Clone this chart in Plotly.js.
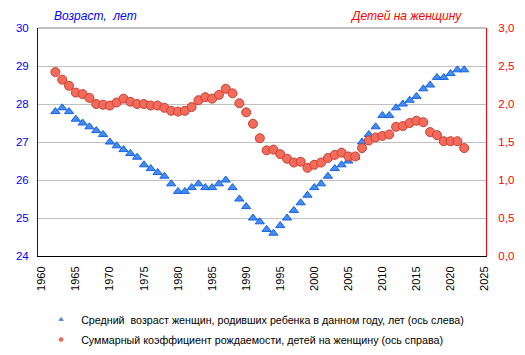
<!DOCTYPE html>
<html>
<head>
<meta charset="utf-8">
<script src="https://cdn.plot.ly/plotly-3.0.1.min.js"></script>
<style>html,body{margin:0;padding:0;background:#fff;}#chart{width:525px;height:355px;}</style>
</head>
<body>
<div id="chart"></div>
<script>
const years = [1962,1963,1964,1965,1966,1967,1968,1969,1970,1971,1972,1973,1974,1975,1976,1977,1978,1979,1980,1981,1982,1983,1984,1985,1986,1987,1988,1989,1990,1991,1992,1993,1994,1995,1996,1997,1998,1999,2000,2001,2002,2003,2004,2005,2006,2007,2008,2009,2010,2011,2012,2013,2014,2015,2016,2017,2018,2019,2020,2021,2022];
const meanAge = [27.8,27.9,27.8,27.6,27.5,27.4,27.3,27.2,27.0,26.9,26.8,26.7,26.6,26.4,26.3,26.2,26.1,25.9,25.7,25.7,25.8,25.9,25.8,25.8,25.9,26.0,25.8,25.5,25.3,25.0,24.9,24.7,24.6,24.8,25.0,25.2,25.4,25.6,25.8,25.9,26.1,26.3,26.4,26.5,26.6,27.0,27.2,27.4,27.7,27.7,27.9,28.0,28.1,28.2,28.4,28.5,28.7,28.7,28.8,28.9,28.9];
const tfr = [2.42,2.32,2.24,2.15,2.13,2.08,2.00,1.99,1.98,2.02,2.07,2.03,2.00,2.00,1.98,1.98,1.95,1.91,1.90,1.91,1.96,2.05,2.09,2.07,2.12,2.20,2.14,2.01,1.89,1.74,1.55,1.39,1.40,1.34,1.28,1.23,1.24,1.16,1.20,1.23,1.29,1.33,1.36,1.31,1.31,1.42,1.52,1.56,1.58,1.60,1.70,1.71,1.75,1.78,1.76,1.63,1.59,1.51,1.51,1.51,1.42];
const xTicks = [1960,1965,1970,1975,1980,1985,1990,1995,2000,2005,2010,2015,2020,2025];
const leftTicks = [24,25,26,27,28,29,30];
const rightTicks = [0,0.5,1,1.5,2,2.5,3];
const name1 = 'Средний  возраст женщин, родивших ребенка в данном году, лет (ось слева)';
const name2 = 'Суммарный коэффициент рождаемости, детей на женщину (ось справа)';

const triFill = '#3f8ef0', triLine = '#1a5fe0';
const cirFill = '#f36b5c', cirLine = '#c8402e';

const traces = [
  {x: years, y: meanAge, type: 'scatter', mode: 'markers', yaxis: 'y', showlegend: false,
   marker: {symbol: 'triangle-up', size: 8, color: triFill, line: {color: triLine, width: 1}}},
  {x: years, y: tfr, type: 'scatter', mode: 'markers', yaxis: 'y2', showlegend: false,
   marker: {symbol: 'circle', size: 9, color: cirFill, line: {color: cirLine, width: 1}}},
  {x: [null], y: [null], type: 'scatter', mode: 'markers', name: name1, legendgroup: 'a',
   marker: {symbol: 'triangle-up', size: 4, color: triFill, line: {color: triLine, width: 0.5}}},
  {x: [null], y: [null], type: 'scatter', mode: 'markers', name: name2, legendgroup: 'b', yaxis: 'y2',
   marker: {symbol: 'circle', size: 4, color: cirFill, line: {color: cirLine, width: 0.5}}}
];

const layout = {
  width: 525, height: 355,
  margin: {l: 38, r: 39, t: 28, b: 99, autoexpand: false},
  paper_bgcolor: '#fff', plot_bgcolor: '#fff',
  font: {family: 'Liberation Sans, Arial, sans-serif', size: 11, color: '#000'},
  separators: ', ',
  showlegend: true,
  legend: {x: 0.007, y: -0.215, xanchor: 'left', yanchor: 'top', orientation: 'v',
           traceorder: 'grouped', tracegroupgap: 1, font: {size: 10.7, color: '#000'},
           bgcolor: 'rgba(0,0,0,0)'},
  xaxis: {range: [1959.45, 2025.2], tickvals: xTicks, ticktext: xTicks.map(String), tickangle: -90,
          showgrid: false, zeroline: false, showline: true, linecolor: '#000', linewidth: 1,
          ticks: '', ticklabelstandoff: 5, automargin: false, tickfont: {size: 11, color: '#000'}},
  yaxis: {range: [24, 30], tickvals: leftTicks, showgrid: true, gridcolor: '#c0c0c0', gridwidth: 1,
          zeroline: false, showline: true, linecolor: '#0000ff', linewidth: 1, ticks: '', automargin: false,
          ticklabelstandoff: 6, tickfont: {size: 11.5, color: '#0000ff'}},
  yaxis2: {range: [0, 3], tickvals: rightTicks, tickformat: '.1f', overlaying: 'y', side: 'right',
           showgrid: false, zeroline: false, showline: true, linecolor: '#ff0000', linewidth: 1, ticks: '', automargin: false,
           ticklabelstandoff: 9, tickfont: {size: 11.5, color: '#ff0000'}},
  shapes: [{type: 'line', xref: 'paper', yref: 'paper', x0: 0, x1: 1, y0: 1, y1: 1,
            line: {color: '#808080', width: 1}}],
  annotations: [
    {text: 'Возраст,  лет', xref: 'paper', yref: 'paper', x: 0.031, y: 1.053, xanchor: 'left', yanchor: 'middle',
     showarrow: false, font: {size: 12, color: '#0000ff', style: 'italic'}},
    {text: 'Детей на женщину', xref: 'paper', yref: 'paper', x: 0.951, y: 1.053, xanchor: 'right', yanchor: 'middle',
     showarrow: false, font: {size: 12, color: '#ff0000', style: 'italic'}}
  ]
};

Plotly.newPlot('chart', traces, layout, {displayModeBar: false, staticPlot: true});
</script>
</body>
</html>
